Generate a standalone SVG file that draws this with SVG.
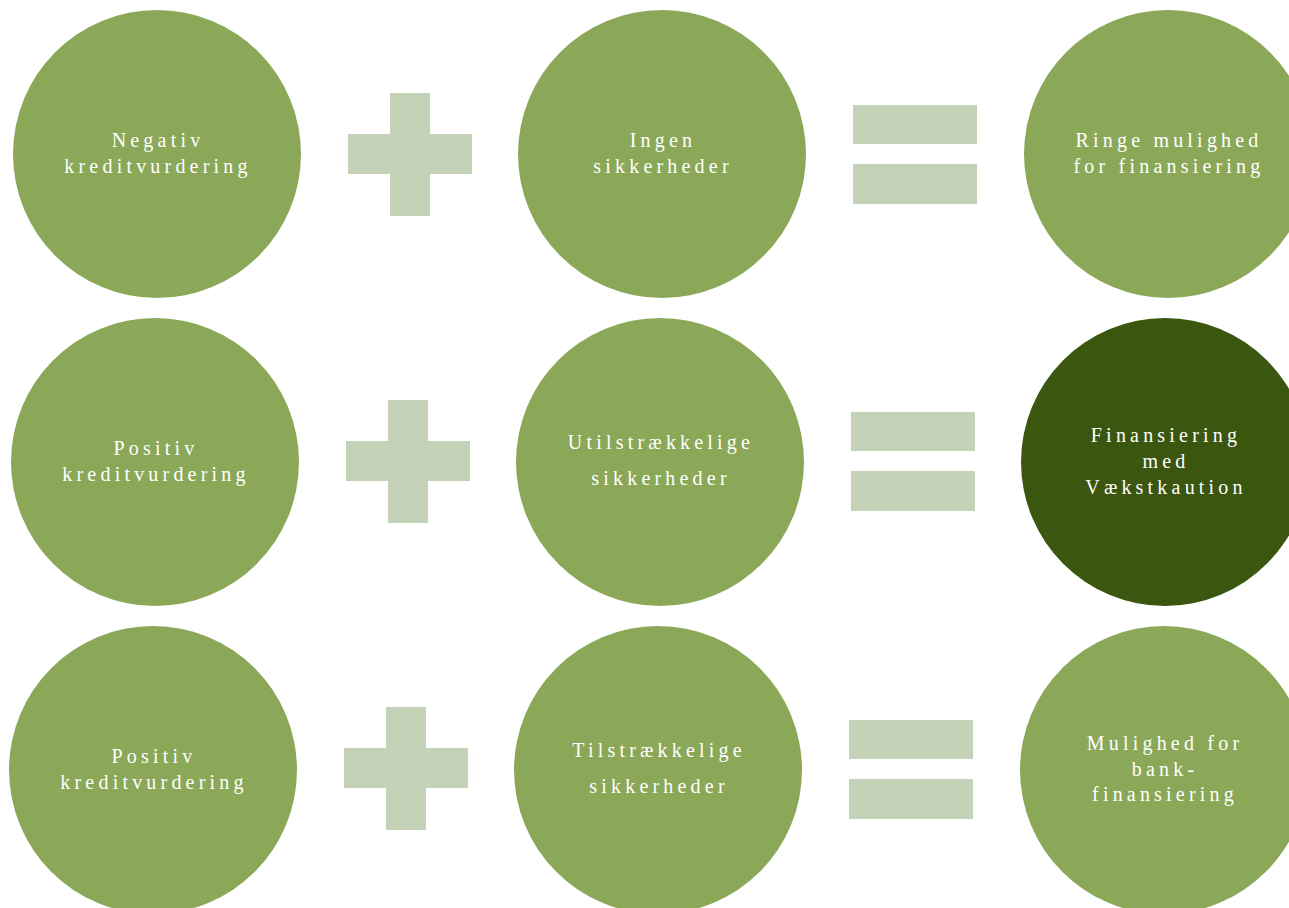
<svg xmlns="http://www.w3.org/2000/svg" width="1289" height="908" viewBox="0 0 1289 908">
<style>
.c{fill:#8BA858}
.d{fill:#3A560F}
.p{fill:#C4D3B7}
text{font-family:"Liberation Serif","Times New Roman",serif;font-size:20px;fill:#FFFFFF;text-anchor:middle;letter-spacing:4.2px}
</style>
<rect width="1289" height="908" fill="#FFFFFF"/>
<g id="connectors">
<g id="plus1"><rect class="p" x="390" y="93" width="40" height="123"/><rect class="p" x="348" y="134" width="124" height="40"/></g>
<g id="eq1"><rect class="p" x="853" y="105" width="124" height="39"/><rect class="p" x="853" y="164" width="124" height="40"/></g>
<g id="plus2"><rect class="p" x="388" y="400" width="40" height="123"/><rect class="p" x="346" y="441" width="124" height="40"/></g>
<g id="eq2"><rect class="p" x="851" y="412" width="124" height="39"/><rect class="p" x="851" y="471" width="124" height="40"/></g>
<g id="plus3"><rect class="p" x="386" y="707" width="40" height="123"/><rect class="p" x="344" y="748" width="124" height="40"/></g>
<g id="eq3"><rect class="p" x="849" y="720" width="124" height="39"/><rect class="p" x="849" y="779" width="124" height="40"/></g>
</g>
<g id="n11"><circle class="c" cx="157" cy="154" r="144"/><text x="158" y="147">Negativ</text><text x="158" y="173">kreditvurdering</text></g>
<g id="n12"><circle class="c" cx="662" cy="154" r="144"/><text x="663" y="147">Ingen</text><text x="663" y="173">sikkerheder</text></g>
<g id="n13"><circle class="c" cx="1168" cy="154" r="144"/><text x="1169" y="147">Ringe mulighed</text><text x="1169" y="173">for finansiering</text></g>
<g id="n21"><circle class="c" cx="155" cy="462" r="144"/><text x="156" y="455">Positiv</text><text x="156" y="481">kreditvurdering</text></g>
<g id="n22"><circle class="c" cx="660" cy="462" r="144"/><text x="661" y="449">Utilstrækkelige</text><text x="661" y="485">sikkerheder</text></g>
<g id="n23"><circle class="d" cx="1165" cy="462" r="144"/><text x="1166" y="442">Finansiering</text><text x="1166" y="468">med</text><text x="1166" y="494">Vækstkaution</text></g>
<g id="n31"><circle class="c" cx="153" cy="770" r="144"/><text x="154" y="763">Positiv</text><text x="154" y="789">kreditvurdering</text></g>
<g id="n32"><circle class="c" cx="658" cy="770" r="144"/><text x="659" y="757">Tilstrækkelige</text><text x="659" y="793">sikkerheder</text></g>
<g id="n33"><circle class="c" cx="1164" cy="770" r="144"/><text x="1165" y="750">Mulighed for</text><text x="1165" y="776">bank-</text><text x="1165" y="801">finansiering</text></g>
</svg>
